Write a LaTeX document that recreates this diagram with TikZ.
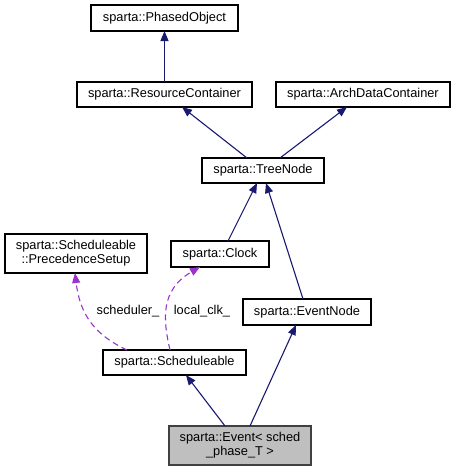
\documentclass[tikz,border=0pt]{standalone}
\usepackage{fontspec}
\setmainfont{Liberation Sans}
\usetikzlibrary{arrows.meta}
\definecolor{navy}{HTML}{191970}
\definecolor{orchid}{HTML}{9A32CD}
\definecolor{evgray}{HTML}{BFBFBF}
\tikzset{
  cls/.style={draw=black, line width=1.2pt, fill=white, inner sep=0pt, anchor=center, font=\fontsize{12.8}{14}\selectfont, align=center},
  inh/.style={navy, line width=1.1pt, -{Triangle[length=10pt,width=8pt]}},
  use/.style={orchid, line width=1.1pt, dash pattern=on 6pt off 4pt, -{Triangle[length=10pt,width=8pt]}},
  lbl/.style={font=\fontsize{12.8}{14}\selectfont, inner sep=0pt}
}
\begin{document}
\begin{tikzpicture}[x=1pt,y=-1pt]
\useasboundingbox (0,0) rectangle (455,472);
\node[cls, minimum width=147pt, minimum height=26pt] (po) at (164.5,18) {sparta::PhasedObject};
\node[cls, minimum width=175pt, minimum height=25pt] (rc) at (164.5,94.5) {sparta::ResourceContainer};
\node[cls, minimum width=174pt, minimum height=25pt] (ad) at (363,94.5) {sparta::ArchDataContainer};
\node[cls, minimum width=122pt, minimum height=25pt] (tn) at (263,170.5) {sparta::TreeNode};
\node[cls, minimum width=142pt, minimum height=39pt] (ps) at (76,253.5) {sparta::Scheduleable\\::PrecedenceSetup};
\node[cls, minimum width=98pt, minimum height=26pt] (ck) at (220,254) {sparta::Clock};
\node[cls, minimum width=128pt, minimum height=26pt] (en) at (307,312) {sparta::EventNode};
\node[cls, minimum width=143pt, minimum height=25pt] (sc) at (174.5,362.5) {sparta::Scheduleable};
\node[cls, fill=evgray, draw=black!75, minimum width=142pt, minimum height=39pt] (ev) at (240,445.5) {sparta::Event< sched\\\_phase\_T >};

\coordinate (a1) at (164.5,82); \coordinate (b1) at (164.5,31);
\draw[inh] (a1) -- (b1);
\coordinate (a2) at (247,158); \coordinate (b2) at (182,107);
\draw[inh] (a2) -- (b2);
\coordinate (a3) at (280,158); \coordinate (b3) at (347,107);
\draw[inh] (a3) -- (b3);
\coordinate (a4) at (228,241); \coordinate (b4) at (257,183);
\draw[inh] (a4) -- (b4);
\coordinate (a5) at (303,299); \coordinate (b5) at (266,183);
\draw[inh] (a5) -- (b5);
\coordinate (a6) at (225,426); \coordinate (b6) at (186,375);
\draw[inh] (a6) -- (b6);
\coordinate (a7) at (250,426); \coordinate (b7) at (296,325);
\draw[inh] (a7) -- (b7);

\coordinate (a8) at (127,350); \coordinate (b8) at (75,273);
\draw[use] (a8) .. controls (95,335) and (80,315) .. (b8);
\coordinate (a9) at (170,350); \coordinate (b9) at (200,267);
\draw[use] (a9) .. controls (163,320) and (160,290) .. (b9);

\node[lbl] (l1) at (128,311) {scheduler\_};
\node[lbl] (l2) at (202,311) {local\_clk\_};
\end{tikzpicture}
\end{document}
